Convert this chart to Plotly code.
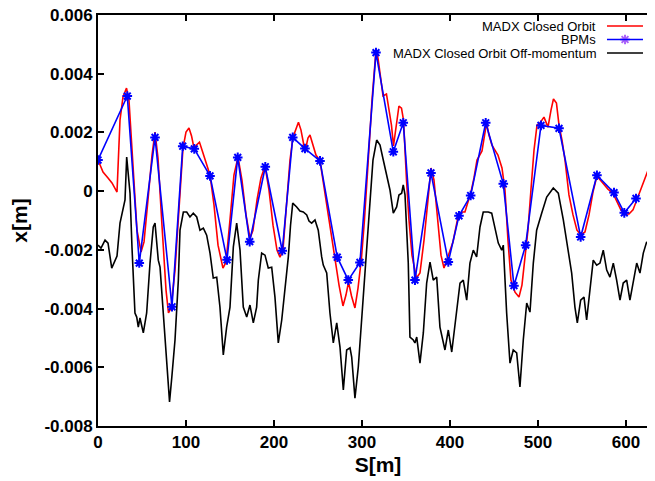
import plotly.graph_objects as go

# ---------------- data ----------------
bpm_s = [0, 33.3, 46.9, 64.8, 84.1, 96.3, 109.4, 127.3, 146.6, 158.8, 172.4, 190.1,
         209.4, 221.3, 235.2, 252.3, 271.9, 284.4, 297.7, 315.9, 335.6, 346.9, 360.2,
         378.4, 398.1, 410.2, 423.5, 440.6, 460.6, 472.7, 486.0, 503.4, 523.9, 548.5,
         567.0, 586.4, 598.1, 611.4]
bpm_x = [0.00106, 0.00324, -0.00245, 0.00183, -0.00394, 0.00153, 0.00144, 0.00052,
         -0.00234, 0.00115, -0.00172, 0.00083, -0.00203, 0.00183, 0.00145, 0.00103,
         -0.00225, -0.00303, -0.00243, 0.00472, 0.00134, 0.00233, -0.00303, 0.00062,
         -0.00241, -0.00084, -0.00015, 0.00233, 0.00025, -0.00322, -0.00184, 0.00224,
         0.00214, -0.00156, 0.00054, -0.00005, -0.00074, -0.00025]

orbit_s = [0, 5.7, 11.4, 15.9, 21.6, 25.0, 28.4, 32.4, 35.2, 39.8, 44.3, 48.9, 52.3,
           56.8, 61.4, 64.8, 68.2, 72.7, 77.3, 80.1, 83.0, 87.5, 92.0, 96.6, 100.0,
           103.4, 106.3, 109.1, 111.9, 115.3, 118.2, 121.6, 127.3, 131.8, 136.4, 142.0,
           145.5, 150.0, 154.5, 159.1, 163.6, 168.2, 172.7, 176.1, 180.7, 185.2, 189.8,
           194.3, 198.9, 203.4, 206.8, 210.2, 214.8, 218.2, 221.6, 225.0, 227.8, 230.7,
           234.1, 236.4, 238.6, 240.9, 244.3, 247.7, 252.3, 255.7, 260.2, 264.8, 269.3,
           273.9, 278.4, 281.8, 284.7, 288.1, 292.0, 295.5, 299.4, 302.8, 306.8, 311.4,
           315.9, 318.2, 320.5, 323.9, 327.8, 330.7, 333.5, 335.8, 338.6, 342.0, 344.9,
           347.2, 350.6, 353.4, 356.8, 361.9, 365.9, 370.5, 375.0, 378.4, 381.8, 386.4,
           389.8, 393.2, 397.7, 403.4, 409.1, 413.6, 417.0, 420.5, 423.9, 427.3, 430.7,
           436.4, 441.5, 444.3, 447.7, 451.1, 454.5, 459.1, 462.5, 465.9, 469.3, 473.9,
           478.4, 481.8, 485.2, 488.6, 492.0, 495.5, 498.9, 502.3, 506.8, 511.4, 514.8,
           517.6, 521.0, 523.9, 527.3, 530.7, 535.2, 539.8, 544.3, 548.9, 553.4, 558.0,
           562.5, 567.0, 572.7, 579.5, 585.2, 589.8, 594.3, 598.9, 603.4, 608.0, 612.5,
           617.0, 621.6, 626.1, 630.7]
orbit_x = [0.00106, 0.00065, 0.00045, 0.00028, -0.00003, 0.00242, 0.00321, 0.00351,
           0.00310, 0.00072, -0.00133, -0.00207, -0.00173, -0.00030, 0.00123, 0.00201,
           0.00113, -0.00116, -0.00337, -0.00415, -0.00398, -0.00269, -0.00064, 0.00147,
           0.00201, 0.00215, 0.00188, 0.00147, 0.00157, 0.00167, 0.00140, 0.00106,
           0.00055, -0.00047, -0.00184, -0.00262, -0.00242, -0.00098, 0.00055, 0.00116,
           0.00038, -0.00081, -0.00160, -0.00133, -0.00030, 0.00045, 0.00086, 0.00004,
           -0.00116, -0.00201, -0.00225, -0.00201, -0.00030, 0.00106, 0.00184, 0.00215,
           0.00235, 0.00208, 0.00154, 0.00150, 0.00181, 0.00191, 0.00157, 0.00123,
           0.00103, 0.00038, -0.00047, -0.00149, -0.00224, -0.00320, -0.00391, -0.00354,
           -0.00310, -0.00357, -0.00398, -0.00330, -0.00228, -0.00098, 0.00089, 0.00310,
           0.00480, 0.00453, 0.00402, 0.00324, 0.00331, 0.00283, 0.00225, 0.00154,
           0.00225, 0.00290, 0.00283, 0.00242, 0.00038, -0.00098, -0.00218, -0.00296,
           -0.00279, -0.00167, -0.00030, 0.00079, 0.00038, -0.00098, -0.00218, -0.00262,
           -0.00225, -0.00173, -0.00088, -0.00071, -0.00071, -0.00037, -0.00003, 0.00045,
           0.00106, 0.00137, 0.00232, 0.00191, 0.00157, 0.00140, 0.00123, 0.00079,
           0.00004, -0.00167, -0.00303, -0.00344, -0.00361, -0.00320, -0.00235, -0.00133,
           0.00004, 0.00140, 0.00225, 0.00232, 0.00252, 0.00218, 0.00276, 0.00314,
           0.00300, 0.00225, 0.00174, 0.00106, -0.00013, -0.00081, -0.00133, -0.00149,
           -0.00139, -0.00081, -0.00003, 0.00051, 0.00031, 0.00007, -0.00007, -0.00034,
           -0.00064, -0.00078, -0.00078, -0.00064, -0.00027, 0.00011, 0.00048, 0.00079,
           0.00113]

offmom_s = [0, 3.4, 8.0, 11.4, 15.6, 19.3, 21.6, 25.0, 28.4, 30.7, 32.6, 34.1, 36.4,
            38.6, 42.0, 44.0, 45.8, 47.7, 51.5, 55.3, 59.1, 62.8, 64.8, 68.5, 70.5, 76.1,
            79.9, 81.3, 83.9, 87.5, 91.3, 93.2, 97.0, 100.8, 104.5, 108.3, 112.2, 115.9,
            119.7, 123.5, 127.3, 131.0, 134.9, 138.6, 142.4, 146.2, 150.0, 153.8, 157.6,
            161.4, 165.1, 169.0, 172.7, 176.5, 180.3, 182.2, 186.0, 189.8, 193.5, 197.4,
            201.1, 204.9, 208.8, 212.5, 216.3, 218.8, 221.3, 225.8, 229.5, 233.3, 237.2,
            239.8, 242.8, 246.6, 250.3, 254.2, 256.0, 259.9, 263.6, 267.4, 271.3, 275.0,
            278.8, 282.6, 286.4, 288.3, 292.0, 295.8, 301.5, 305.3, 309.1, 312.5, 316.7,
            320.5, 324.2, 328.1, 331.8, 335.6, 339.4, 342.0, 345.1, 346.9, 348.9, 352.6,
            354.5, 358.3, 360.2, 362.2, 365.9, 369.7, 373.5, 377.3, 381.0, 384.9, 388.6,
            394.3, 398.1, 402.0, 405.7, 411.4, 415.1, 419.0, 422.7, 426.5, 430.3, 434.1,
            437.8, 443.5, 447.4, 451.1, 454.9, 458.8, 460.6, 464.4, 468.2, 471.9, 475.8,
            479.5, 483.3, 487.2, 490.9, 494.7, 498.5, 504.2, 509.9, 517.4, 523.1, 528.8,
            534.4, 538.3, 542.0, 544.7, 548.5, 552.3, 555.3, 559.1, 562.8, 566.7, 570.5,
            574.2, 578.1, 581.8, 585.6, 589.4, 593.2, 596.9, 600.8, 604.5, 608.3, 612.2,
            615.9, 619.7, 623.5, 627.3, 631.0]
offmom_x = [-0.00184, -0.00194, -0.00167, -0.00177, -0.00262, -0.00235, -0.00221,
            -0.00109, -0.00054, -0.00030, 0.00116, 0.00072, -0.00007, -0.00190, -0.00415,
            -0.00429, -0.00463, -0.00432, -0.00483, -0.00415, -0.00245, -0.00122,
            -0.00109, -0.00235, -0.00259, -0.00497, -0.00667, -0.00718, -0.00633,
            -0.00507, -0.00303, -0.00133, -0.00071, -0.00071, -0.00088, -0.00075,
            -0.00088, -0.00133, -0.00126, -0.00150, -0.00211, -0.00296, -0.00293,
            -0.00395, -0.00558, -0.00463, -0.00395, -0.00190, -0.00109, -0.00201,
            -0.00395, -0.00429, -0.00388, -0.00449, -0.00395, -0.00303, -0.00211,
            -0.00218, -0.00262, -0.00259, -0.00361, -0.00517, -0.00439, -0.00337,
            -0.00224, -0.00116, -0.00041, -0.00054, -0.00068, -0.00071, -0.00081,
            -0.00102, -0.00109, -0.00098, -0.00133, -0.00224, -0.00252, -0.00279,
            -0.00415, -0.00517, -0.00449, -0.00531, -0.00677, -0.00541, -0.00534,
            -0.00565, -0.00705, -0.00599, -0.00361, -0.00190, -0.00020, 0.00106, 0.00174,
            0.00157, 0.00106, 0.00055, 0.00004, -0.00075, -0.00054, -0.00013, -0.00007,
            0.00021, -0.00013, -0.00245, -0.00497, -0.00507, -0.00517, -0.00497, -0.00586,
            -0.00483, -0.00313, -0.00242, -0.00303, -0.00293, -0.00463, -0.00541,
            -0.00473, -0.00548, -0.00463, -0.00313, -0.00303, -0.00371, -0.00245,
            -0.00201, -0.00224, -0.00122, -0.00071, -0.00071, -0.00075, -0.00122,
            -0.00177, -0.00201, -0.00184, -0.00415, -0.00586, -0.00541, -0.00551,
            -0.00667, -0.00507, -0.00381, -0.00412, -0.00245, -0.00133, -0.00075,
            -0.00020, 0.00011, -0.00007, -0.00098, -0.00201, -0.00279, -0.00395,
            -0.00449, -0.00371, -0.00361, -0.00439, -0.00337, -0.00235, -0.00252,
            -0.00245, -0.00201, -0.00269, -0.00293, -0.00245, -0.00303, -0.00371,
            -0.00313, -0.00303, -0.00371, -0.00303, -0.00245, -0.00279, -0.00211,
            -0.00173, -0.00194, -0.00194]

x_ticks = [0, 100, 200, 300, 400, 500, 600]
y_ticks = [-0.008, -0.006, -0.004, -0.002, 0, 0.002, 0.004, 0.006]
y_tick_text = ["-0.008", "-0.006", "-0.004", "-0.002", "0", "0.002", "0.004", "0.006"]
legend_names = ["MADX Closed Orbit", "BPMs", "MADX Closed Orbit Off-momentum"]
legend_colors = ["#ff0000", "#0000ff", "#000000"]

# ---------------- figure ----------------
fig = go.Figure()
fig.add_trace(go.Scatter(x=orbit_s, y=orbit_x, mode="lines", name=legend_names[0],
                         line=dict(color=legend_colors[0], width=1.6), showlegend=False))
fig.add_trace(go.Scatter(x=bpm_s, y=bpm_x, mode="lines+markers", name=legend_names[1],
                         line=dict(color=legend_colors[1], width=1.6),
                         marker=dict(symbol="asterisk-open", size=8,
                                     line=dict(color=legend_colors[1], width=2)),
                         showlegend=False))
fig.add_trace(go.Scatter(x=offmom_s, y=offmom_x, mode="lines", name=legend_names[2],
                         line=dict(color=legend_colors[2], width=1.6), showlegend=False))

# legend marker on an invisible paper-like overlay axis
fig.add_trace(go.Scatter(x=[0.9411], y=[0.9404], mode="markers", xaxis="x3", yaxis="y3",
                         marker=dict(symbol="asterisk-open", size=8,
                                     line=dict(color=legend_colors[1], width=2)),
                         showlegend=False, hoverinfo="skip"))

tickfont = dict(family="Liberation Sans", size=17, color="black", weight="bold")
titlefont = dict(family="Liberation Sans", size=21, color="black", weight="bold")

fig.update_layout(
    width=655, height=481,
    margin=dict(l=90, r=5, t=7, b=63),
    paper_bgcolor="white", plot_bgcolor="white",
    showlegend=False,
    xaxis=dict(range=[0, 636.4], tickvals=x_ticks, ticks="inside", ticklen=6, tickwidth=1.5,
               tickcolor="black", showline=True, linecolor="black", linewidth=2,
               mirror="ticks", showgrid=False, zeroline=False, tickfont=tickfont,
               automargin=False, ticklabeloverflow="allow",
               title=dict(text="S[m]", font=titlefont, standoff=6)),
    yaxis=dict(range=[-0.008, 0.006], tickvals=y_ticks, ticktext=y_tick_text,
               ticks="inside", ticklen=6, tickwidth=1.5, tickcolor="black",
               showline=True, linecolor="black", linewidth=2, mirror="ticks",
               showgrid=False, zeroline=False, tickfont=tickfont, automargin=False,
               ticklabeloverflow="allow",
               title=dict(text="x[m]", font=titlefont, standoff=12)),
    xaxis3=dict(overlaying="x", range=[0, 1], visible=False),
    yaxis3=dict(overlaying="y", range=[0, 1], visible=False),
)

# custom legend (text right-aligned, sample line on the right)
rows_y = [0.9732, 0.9404, 0.9075]
for name, color, yy in zip(legend_names, legend_colors, rows_y):
    fig.add_annotation(x=0.8929, y=yy, xref="paper", yref="paper", text=name,
                       showarrow=False, xanchor="right", yanchor="middle",
                       font=dict(family="Liberation Sans", size=13, color="black"))
    fig.add_shape(type="line", xref="paper", yref="paper", x0=0.9089, x1=0.9732,
                  y0=yy, y1=yy, line=dict(color=color, width=1.6))

fig.write_html("out.html")
